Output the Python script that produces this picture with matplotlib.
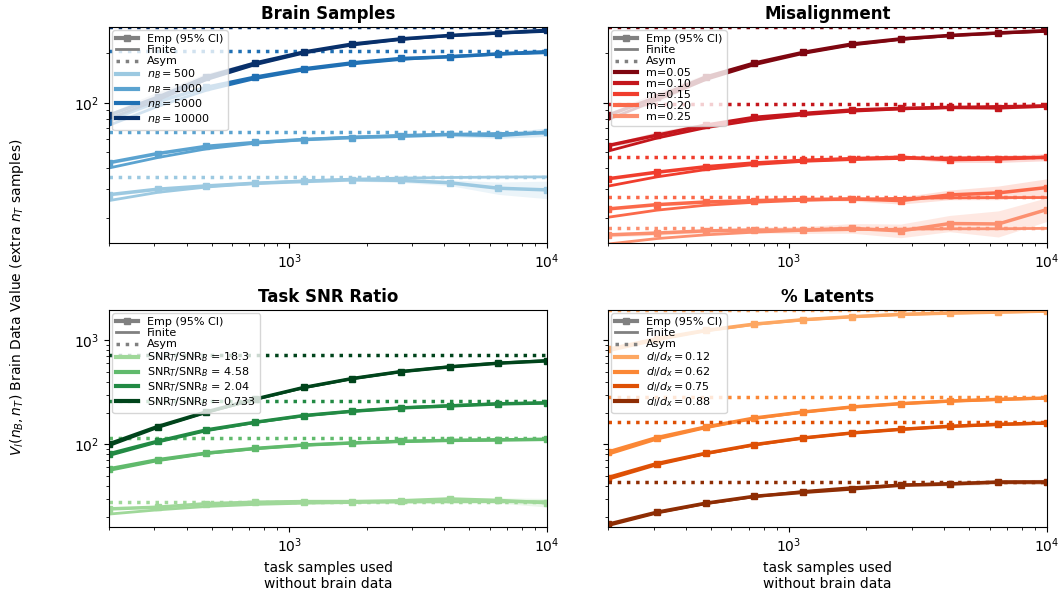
import matplotlib
matplotlib.use("Agg")
import matplotlib.pyplot as plt
from matplotlib.lines import Line2D
import numpy as np

# ---------------- data ----------------
x_task = [200, 309, 477, 737, 1138, 1758, 2716, 4196, 6482, 10000]

# Brain Samples
brain_labels = ["$n_B = 500$", "$n_B = 1000$", "$n_B = 5000$", "$n_B = 10000$"]
brain_emp = [
    [27.7, 29.9, 31.3, 32.5, 33.3, 34.1, 33.8, 32.7, 30.3, 29.6],
    [43.3, 49.2, 54.4, 57.4, 59.8, 61.5, 62.7, 64.2, 63.3, 66.2],
    [78.4, 101.4, 124, 143, 160.6, 174.6, 185.5, 190, 198, 204],
    [84.1, 108, 143.5, 174, 203, 227, 244, 256, 265, 275],
]
brain_fin = [
    [25.5, 28.6, 30.8, 32.4, 33.6, 34.4, 34.9, 35.2, 35.4, 35.5],
    [40.2, 46.5, 52.5, 56.8, 59.8, 61.9, 63.4, 64.4, 65.1, 65.6],
    [73, 95, 119, 140, 158, 172, 183, 191, 197, 201],
    [80, 104, 138, 170, 200, 224, 242, 255, 264, 271],
]
brain_asym = [35.6, 66.3, 207, 288]
brain_ci = [
    [0.02, 0.02, 0.02, 0.02, 0.02, 0.02, 0.03, 0.04, 0.09, 0.13],
    [0.02, 0.02, 0.02, 0.02, 0.02, 0.02, 0.02, 0.03, 0.04, 0.06],
    [0.03, 0.04, 0.03, 0.02, 0.02, 0.02, 0.02, 0.02, 0.02, 0.02],
    [0.03, 0.08, 0.05, 0.03, 0.02, 0.02, 0.02, 0.02, 0.02, 0.02],
]

# Misalignment
mis_labels = ["m=0.05", "m=0.10", "m=0.15", "m=0.20", "m=0.25"]
mis_emp = [
    [84, 108, 143, 174, 202, 227, 244, 256, 265, 274],
    [55, 63.5, 73.1, 81.5, 86.1, 90.3, 92.4, 93.7, 93.2, 95.5],
    [34.6, 37.9, 40.9, 43.1, 44.7, 45.8, 46.7, 45.2, 45.6, 46.7],
    [22.7, 24.1, 25.0, 25.5, 25.9, 26.1, 25.5, 27.6, 28.4, 30.6],
    [15.8, 16.2, 16.7, 16.9, 16.9, 17.3, 16.7, 18.5, 18.4, 22.5],
]
mis_fin = [
    [79, 104, 138, 170, 199, 224, 242, 255, 264, 271],
    [50.9, 61, 70.5, 78.5, 84.5, 88.8, 91.7, 93.6, 95, 95.9],
    [31.2, 35.5, 39.3, 42.2, 44.1, 45.2, 45.9, 46.3, 46.5, 46.6],
    [20.2, 22.3, 23.9, 24.9, 25.6, 26.0, 26.3, 26.5, 26.6, 26.6],
    [13.9, 15.0, 15.8, 16.4, 16.8, 17.0, 17.1, 17.2, 17.2, 17.3],
]
mis_asym = [287, 98.2, 46.9, 26.7, 17.3]
mis_ci = [
    [0.03, 0.08, 0.04, 0.02, 0.02, 0.02, 0.02, 0.02, 0.02, 0.02],
    [0.02, 0.05, 0.03, 0.02, 0.02, 0.02, 0.02, 0.02, 0.02, 0.02],
    [0.02, 0.02, 0.02, 0.02, 0.02, 0.02, 0.02, 0.04, 0.05, 0.05],
    [0.02, 0.02, 0.02, 0.02, 0.02, 0.03, 0.05, 0.07, 0.10, 0.13],
    [0.03, 0.03, 0.03, 0.04, 0.05, 0.07, 0.10, 0.12, 0.20, 0.18],
]

# Task SNR Ratio
snr_labels = ["SNR$_T$/SNR$_B$ = 18.3", "SNR$_T$/SNR$_B$ = 4.58",
              "SNR$_T$/SNR$_B$ = 2.04", "SNR$_T$/SNR$_B$ = 0.733"]
snr_emp = [
    [23.9, 24.8, 26.8, 27.7, 28.1, 28.1, 28.6, 29.8, 28.8, 27.4],
    [58, 71, 82.3, 91.2, 98.4, 103, 106.7, 109, 110, 111.6],
    [80.9, 107, 137.5, 163, 189, 208, 224, 234, 245, 250],
    [100.9, 148.3, 205, 272, 352, 429.5, 501, 556, 603, 635],
]
snr_fin = [
    [21.3, 23.4, 25.2, 26.4, 27.1, 27.5, 27.8, 27.9, 28.0, 28.0],
    [56, 69.5, 81.5, 90.8, 98, 103, 106.7, 109.2, 110.8, 112],
    [78, 105, 135, 162, 188, 208, 224, 236, 245, 251],
    [97, 145, 202, 270, 350, 428, 500, 558, 605, 640],
]
snr_asym = [28.1, 114, 259, 724]
snr_ci = [
    [0.02, 0.02, 0.02, 0.02, 0.02, 0.02, 0.02, 0.03, 0.06, 0.10],
    [0.02, 0.02, 0.02, 0.02, 0.02, 0.02, 0.02, 0.02, 0.02, 0.02],
    [0.02, 0.02, 0.02, 0.02, 0.02, 0.02, 0.02, 0.02, 0.02, 0.02],
    [0.02, 0.02, 0.02, 0.02, 0.02, 0.02, 0.02, 0.02, 0.02, 0.02],
]

# % Latents
lat_labels = ["$d_l/d_x = 0.12$", "$d_l/d_x = 0.62$", "$d_l/d_x = 0.75$", "$d_l/d_x = 0.88$"]
lat_emp = [
    [819, 1038, 1247, 1435, 1581, 1690, 1778, 1830, 1871, 1914],
    [84.3, 116, 146.6, 179, 204.5, 228.5, 246, 260.6, 270.8, 278.7],
    [47.9, 65.2, 81.9, 99.3, 115, 128.5, 139.3, 148.9, 155.7, 160.2],
    [17, 22.2, 27.1, 31.6, 34.5, 37.2, 40.4, 41.5, 43.4, 43.4],
]
lat_fin = [
    [790, 1010, 1230, 1425, 1575, 1688, 1775, 1830, 1870, 1905],
    [80, 112, 144, 177, 204, 228, 246, 260, 270, 278],
    [46, 63.5, 81, 98.5, 115, 128.5, 139.5, 148.5, 155, 159.5],
    [16.5, 21.8, 26.8, 31.3, 35.2, 38.3, 40.5, 42, 42.9, 43.3],
]
lat_asym = [1960, 287.5, 164, 43.4]
lat_ci = [
    [0.02, 0.02, 0.02, 0.02, 0.02, 0.02, 0.02, 0.02, 0.02, 0.02],
    [0.02, 0.02, 0.02, 0.02, 0.02, 0.02, 0.02, 0.02, 0.02, 0.02],
    [0.02, 0.02, 0.02, 0.02, 0.02, 0.02, 0.02, 0.02, 0.02, 0.02],
    [0.02, 0.02, 0.02, 0.02, 0.02, 0.02, 0.03, 0.04, 0.05, 0.06],
]

panels = [
    ("Brain Samples", brain_labels, brain_emp, brain_fin, brain_asym, brain_ci,
     plt.cm.Blues, [0.38, 0.55, 0.75, 1.0]),
    ("Misalignment", mis_labels, mis_emp, mis_fin, mis_asym, mis_ci,
     plt.cm.Reds, [0.95, 0.77, 0.62, 0.5, 0.38]),
    ("Task SNR Ratio", snr_labels, snr_emp, snr_fin, snr_asym, snr_ci,
     plt.cm.Greens, [0.38, 0.55, 0.75, 1.0]),
    ("% Latents", lat_labels, lat_emp, lat_fin, lat_asym, lat_ci,
     plt.cm.Oranges, [0.4, 0.52, 0.72, 0.95]),
]

row_ylims = [(14.1, 288), (16.0, 1960)]

# ---------------- figure ----------------
fig = plt.figure(figsize=(10.6, 5.95), dpi=100)
W, H = 1060, 595
rects = [
    (109, 27, 438, 216),
    (608, 27, 439, 216),
    (109, 310, 438, 217),
    (608, 310, 439, 217),
]
axes = []
for (l, t, w, h) in rects:
    axes.append(fig.add_axes([l / W, 1 - (t + h) / H, w / W, h / H]))

x = np.array(x_task, dtype=float)
for i, (ax, panel) in enumerate(zip(axes, panels)):
    title, labels, emp, fin, asym, ci, cmap, cvals = panel
    colors = [cmap(v) for v in cvals]
    for j in range(len(labels)):
        c = colors[j]
        e = np.array(emp[j], dtype=float)
        w = np.array(ci[j], dtype=float)
        ax.fill_between(x, e / (1 + w), e * (1 + w), color=c, alpha=0.2, lw=0)
        ax.plot(x, fin[j], color=c, lw=2.0)
        ax.plot(x, e, color=c, lw=2.5, marker='s', ms=4)
        ax.axhline(asym[j], color=c, lw=2.5, ls=':')
    ax.set_xscale('log')
    ax.set_yscale('log')
    ax.set_xlim(200, 10000)
    ax.set_ylim(*row_ylims[i // 2])
    ax.set_title(title, fontsize=12, fontweight='bold')
    if i % 2 == 1:
        ax.tick_params(axis='y', which='both', labelleft=False)
    if i >= 2:
        ax.set_xlabel("task samples used\nwithout brain data", fontsize=10)

    handles = [
        Line2D([], [], color='gray', lw=3, marker='s', ms=4.5),
        Line2D([], [], color='gray', lw=2),
        Line2D([], [], color='gray', lw=2.5, ls=':'),
    ] + [Line2D([], [], color=c, lw=3) for c in colors]
    names = ["Emp (95% CI)", "Finite", "Asym"] + list(labels)
    ax.legend(handles, names, loc='upper left', fontsize=8,
              borderaxespad=0.3, handlelength=2.0, labelspacing=0.1,
              borderpad=0.35)

fig.text(0.016, 0.5, "$V_l(n_B, n_T)$ Brain Data Value (extra $n_T$ samples)",
         rotation=90, va='center', ha='center', fontsize=10)

fig.savefig("out.png", dpi=100)
